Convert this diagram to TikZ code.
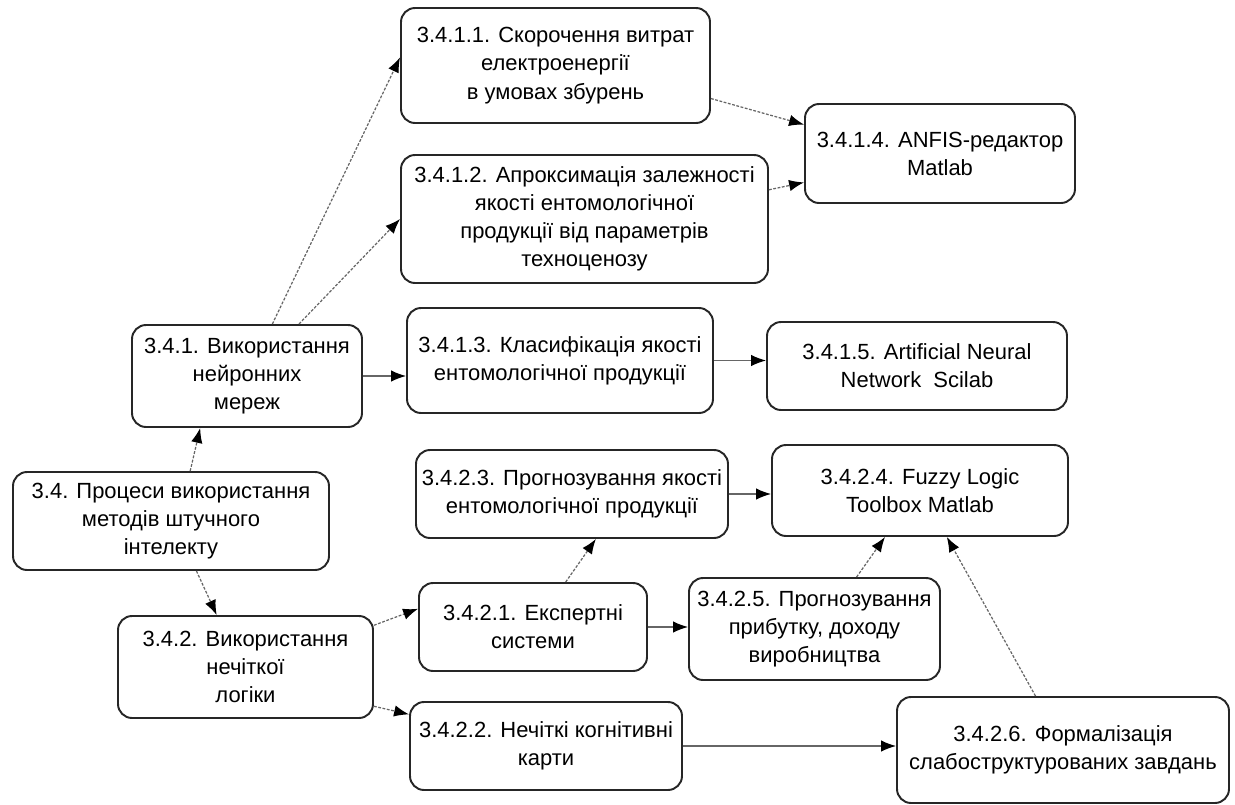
\documentclass[tikz,border=0pt]{standalone}
\usepackage{fontspec}
\setmainfont{Liberation Sans}
\usepackage{tikz}
\usetikzlibrary{arrows.meta, positioning, calc}
\tikzstyle{task} = [rectangle, rounded corners=8pt, draw=black!85, line width=1.1pt, fill=white, align=center, font=\fontsize{12.5}{16}\selectfont, inner sep=2pt]
\tikzstyle{arrow} = [draw=black!60, line width=0.7pt, -{Latex[length=8.5pt, width=6.5pt, color=black]}]
\tikzstyle{dotarrow} = [arrow, dash pattern=on 1.6pt off 0.9pt]

\begin{document}
\begin{tikzpicture}[x=0.02cm, y=-0.02cm]
    \useasboundingbox (0,0) rectangle (1235,805);
    \node (n34) [task, minimum width=316*0.02cm, minimum height=98*0.02cm] at (171,521) {3.4. Процеси використання\\методів штучного\\інтелекту};
    \node (n341) [task, minimum width=230*0.02cm, minimum height=102*0.02cm] at (247,376) {3.4.1. Використання\\нейронних\\мереж};
    \node (n342) [task, minimum width=255*0.02cm, minimum height=102*0.02cm] at (245.5,667) {3.4.2. Використання\\нечіткої\\логіки};
    \node (n3411) [task, minimum width=309*0.02cm, minimum height=115*0.02cm] at (555.5,65.5) {3.4.1.1. Скорочення витрат\\електроенергії\\в умовах збурень};
    \node (n3412) [task, minimum width=367*0.02cm, minimum height=128*0.02cm] at (584.5,219) {3.4.1.2. Апроксимація залежності\\якості ентомологічної\\продукції від параметрів\\техноценозу};
    \node (n3413) [task, minimum width=306*0.02cm, minimum height=105*0.02cm] at (560,360.5) {3.4.1.3. Класифікація якості\\ентомологічної продукції};
    \node (n3414) [task, minimum width=270*0.02cm, minimum height=99*0.02cm] at (940,153.5) {3.4.1.4. ANFIS-редактор\\Matlab};
    \node (n3415) [task, minimum width=300*0.02cm, minimum height=88*0.02cm] at (917,366) {3.4.1.5. Artificial Neural\\Network\ \ Scilab};
    \node (n3421) [task, minimum width=228*0.02cm, minimum height=88*0.02cm] at (533,627) {3.4.2.1. Експертні\\системи};
    \node (n3422) [task, minimum width=272*0.02cm, minimum height=88*0.02cm] at (546,746) {3.4.2.2. Нечіткі когнітивні\\карти};
    \node (n3423) [task, minimum width=312*0.02cm, minimum height=88*0.02cm] at (572,494) {3.4.2.3. Прогнозування якості\\ентомологічної продукції};
    \node (n3424) [task, minimum width=296*0.02cm, minimum height=91*0.02cm] at (920,490.5) {3.4.2.4. Fuzzy Logic\\Toolbox Matlab};
    \node (n3425) [task, minimum width=251*0.02cm, minimum height=102*0.02cm] at (814.5,629) {3.4.2.5. Прогнозування\\прибутку, доходу\\виробництва};
    \node (n3426) [task, minimum width=332*0.02cm, minimum height=106*0.02cm] at (1063,750) {3.4.2.6. Формалізація\\слабоструктурованих завдань};

    % neural networks branch
    \draw [dotarrow] (n34.69) -- (n341.-132);
    \draw [dotarrow] (n341.64) -- (n3411.177);
    \draw [dotarrow] (n341.45) -- (n3412.west);
    \draw [arrow] (n341.east) -- (n341.east -| n3413.west);
    \draw [dotarrow] (n3411.-12.6) -- (n3414.168.4);
    \draw [dotarrow] (n3412.9.6) -- (n3414.-168.8);
    \draw [arrow] (n3413.east) -- (n3413.east -| n3415.west);

    % fuzzy logic branch
    \draw [dotarrow] (n34.-63) -- (n342.119.3);
    \draw [dotarrow] (n342.18.2) -- (n3421.171.5);
    \draw [dotarrow] (n342.-17.8) -- (n3422.167.2);
    \draw [dotarrow] (n3421.54) -- (n3423.-62.4);
    \draw [arrow] (n3421.east) -- (n3421.east -| n3425.west);
    \draw [arrow] (n3423.east) -- (n3423.east -| n3424.west);
    \draw [dotarrow] (n3425.51.5) -- (n3424.-127.4);
    \draw [dotarrow] (n3426.117.8) -- (n3424.-60.7);
    \draw [arrow] (n3422.east) -- (n3422.east -| n3426.west);
\end{tikzpicture}
\end{document}
